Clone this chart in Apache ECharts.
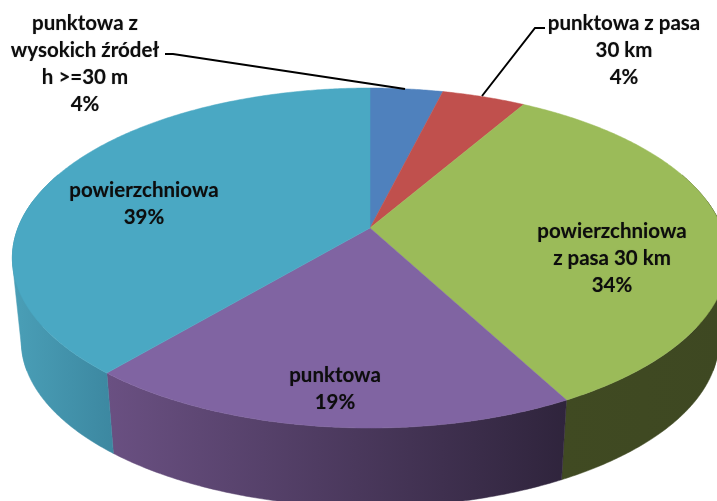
<!DOCTYPE html>
<html>
<head>
<meta charset="utf-8">
<style>html,body{margin:0;padding:0;background:#fff}#c{width:717px;height:501px}</style>
<script src="https://cdn.jsdelivr.net/npm/echarts@6/dist/echarts.min.js"></script>
</head>
<body>
<div id="c"></div>
<script>
// ---- data ----
const categories = ['punktowa z\nwysokich źródeł\nh >=30 m', 'punktowa z pasa\n30 km', 'powierzchniowa\nz pasa 30 km', 'punktowa', 'powierzchniowa'];
const values = [3.9, 4.49, 33.8, 19.01, 38.8];

// ---- styles and layout ----
const topColors = ['#4F81BD', '#C0504D', '#9BBB59', '#8064A2', '#4AA8C3'];
const sideColors = [
  ['#3a5f8c', '#3a5f8c'], ['#8c3a38', '#8c3a38'], ['#404A22', '#3E4822'],
  ['#6A5082', '#2F243C'], ['#4A9FB7', '#3C87A0']
];
const labelCentres = [[85, 23], [624, 23], [612, 231], [335, 375], [144, 190]];
const leaders = [
  [[165, 54], [173, 54], [405, 89]],
  [[482, 96], [535, 28], [545, 28]]
];
const P = {cx: 370, cy: 228, rx: 352, ry: 164.7, k: 0.1765, cy2: 312, s: 0.975, lh: 27};
const FONT = 'bold 20.5px Lato, sans-serif';

const total = values.reduce((a, b) => a + b, 0);
const rimTop = t => {
  const u = Math.sin(t), v = -Math.cos(t), d = 1 - P.k * v;
  return [P.cx + P.rx * u / d, P.cy + P.ry * v / d];
};
const rimBottom = t => {
  const p = rimTop(t);
  return [P.cx + (p[0] - P.cx) * P.s, P.cy2 + (p[1] - P.cy) * P.s];
};
const arcPts = (f, a, b) => {
  const n = Math.max(8, Math.ceil((b - a) * 120)), out = [];
  for (let i = 0; i <= n; i++) out.push(f(a + (b - a) * i / n));
  return out;
};
function hull(points) {
  const p = points.slice().sort((m, n) => m[0] - n[0] || m[1] - n[1]);
  const cross = (o, m, n) => (m[0] - o[0]) * (n[1] - o[1]) - (m[1] - o[1]) * (n[0] - o[0]);
  const half = list => {
    const h = [];
    list.forEach(q => {
      while (h.length > 1 && cross(h[h.length - 2], h[h.length - 1], q) <= 0) h.pop();
      h.push(q);
    });
    h.pop();
    return h;
  };
  return half(p).concat(half(p.reverse()));
}

function renderSlice(params, api) {
  const i = params.dataIndex;
  let start = 0;
  for (let j = 0; j < i; j++) start += values[j];
  const a = start / total * 2 * Math.PI;
  const b = (start + api.value(0)) / total * 2 * Math.PI;
  const topArc = arcPts(rimTop, a, b);
  const R = Math.PI / 180;
  // only the front of the wall is visible
  const wa = Math.max(a, 80 * R), wb = Math.min(b, 280 * R);
  const children = [];
  if (wb > wa) {
    const wallTop = arcPts(rimTop, wa, wb);
    const wallBot = arcPts(rimBottom, wa, wb);
    const xs = wallTop.concat(wallBot).map(p => p[0]);
    const grad = {
      type: 'linear', global: true,
      x: i === 4 ? 12 : Math.min(...xs), y: 0, x2: i === 4 ? 115 : Math.max(...xs), y2: 0,
      colorStops: [{offset: 0, color: sideColors[i][0]}, {offset: 1, color: sideColors[i][1]}]
    };
    children.push({type: 'polygon', z2: 1, shape: {points: wallTop.concat(wallBot.slice().reverse())},
      style: {fill: grad, stroke: grad, lineWidth: 0.5}});
    // the wall's outline runs along the tangent between the two rims near the far left and right
    [[70 * R, 110 * R], [250 * R, 290 * R]].forEach(w => {
      const lo = Math.max(a, w[0]), hi = Math.min(b, w[1]);
      if (hi > lo) {
        children.push({type: 'polygon', z2: 1,
          shape: {points: hull(arcPts(rimTop, lo, hi).concat(arcPts(rimBottom, lo, hi)))},
          style: {fill: grad, stroke: grad, lineWidth: 0.5}});
      }
    });
  }
  children.push({type: 'polygon', z2: 5, shape: {points: [[P.cx, P.cy]].concat(topArc)},
    style: {fill: topColors[i], stroke: topColors[i], lineWidth: 0.5}});
  const lines = categories[i].split('\n').concat([Math.round(api.value(0)) + '%']);
  lines.forEach((t, n) => {
    children.push({type: 'text', z2: 20, style: {
      text: t, x: labelCentres[i][0], y: labelCentres[i][1] + n * P.lh,
      align: 'center', verticalAlign: 'middle', font: FONT, fill: '#0d0d0d',
      textShadowColor: 'rgba(0,0,0,0.35)', textShadowBlur: 1
    }});
  });
  if (leaders[i]) {
    children.push({type: 'polyline', z2: 10, shape: {points: leaders[i]},
      style: {fill: 'none', stroke: '#000', lineWidth: 2}});
  }
  return {type: 'group', children};
}

const chart = echarts.init(document.getElementById('c'), null, {renderer: 'canvas'});
chart.setOption({
  animation: false,
  backgroundColor: '#fff',
  series: [{
    type: 'custom',
    coordinateSystem: 'none',
    clip: false,
    silent: true,
    renderItem: renderSlice,
    encode: {value: 0},
    data: values.map((v, i) => ({name: categories[i], value: [v]}))
  }]
});
</script>
</body>
</html>
